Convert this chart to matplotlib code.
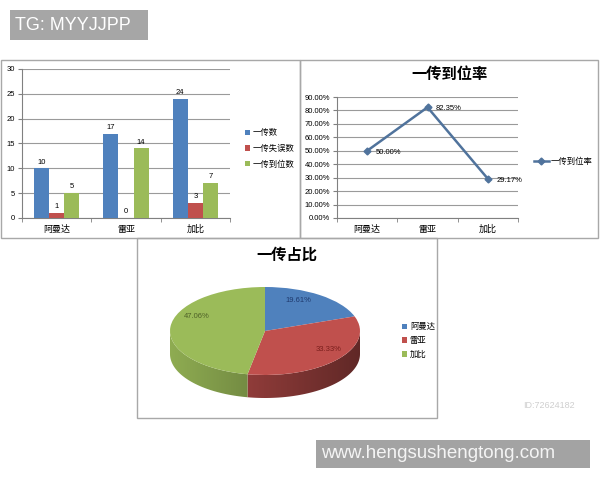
from matplotlib import pyplot as plt
from matplotlib.patches import Rectangle, Polygon
from matplotlib.lines import Line2D
from matplotlib.ticker import FuncFormatter
import matplotlib.colors as mcolors
import numpy as np

plt.rcParams['font.family'] = ['Liberation Sans', 'Noto Sans CJK SC']

# data
players = ['阿曼达', '雷亚', '加比']
series_names = ['一传数', '一传失误数', '一传到位数']
pass_total = [10, 17, 24]
pass_error = [1, 0, 3]
pass_good = [5, 14, 7]
good_rate = [0.5000, 0.8235, 0.2917]
rate_labels = ['50.00%', '82.35%', '29.17%']
share_labels = ['19.61%', '33.33%', '47.06%']

blue, red, green = '#4F81BD', '#C0504D', '#9BBB59'
W, H = 600, 480

def px(x0, y0, x1, y1):
    return [x0 / W, 1 - y1 / H, (x1 - x0) / W, (y1 - y0) / H]

def box(x0, y0, x1, y1, **kw):
    fig.add_artist(Rectangle((x0 / W, 1 - y1 / H), (x1 - x0) / W, (y1 - y0) / H,
                             transform=fig.transFigure, **kw))

fig = plt.figure(figsize=(6, 4.8), dpi=100)

# panel frames and overlay boxes
box(1, 60, 300, 238, fill=False, ec='#a8a8a8', lw=1)
box(300, 60, 598, 238, fill=False, ec='#a8a8a8', lw=1)
box(137, 238, 437, 418, fill=False, ec='#a8a8a8', lw=1)
box(10, 10, 148, 40, fc='#a6a6a6', ec='none')
fig.text(15 / W, 1 - 25 / H, 'TG: MYYJJPP', color='white', fontsize=13, va='center')
box(316, 440, 590, 468, fc='#a3a3a3', ec='none')
fig.text(321 / W, 1 - 454 / H, 'www.hengsushengtong.com', color='#f4f4f4', fontsize=13.5, va='center')
fig.text(523 / W, 1 - 405 / H, 'ID:72624182', color='#cfcfcf', fontsize=6.5, va='center')

# ---- bar chart
ax1 = fig.add_axes(px(22, 69, 230, 218))
x = np.arange(len(players))
bw = 0.217
for i, (vals, col, lab) in enumerate(zip([pass_total, pass_error, pass_good], [blue, red, green], series_names)):
    bars = ax1.bar(x + (i - 1) * bw, vals, bw, color=col, label=lab, zorder=3)
    ax1.bar_label(bars, padding=2, fontsize=5.5)
ax1.set_xlim(-0.5, 2.5)
ax1.set_ylim(0, 30)
ax1.set_yticks(range(0, 31, 5))
ax1.grid(axis='y', color='#9a9a9a', lw=0.8)
ax1.set_xticks(x)
ax1.set_xticklabels(players, fontsize=6.5)
ax1.set_xticks([-0.5, 0.5, 1.5, 2.5], minor=True)
ax1.tick_params(axis='x', which='major', length=0, pad=5)
ax1.tick_params(axis='x', which='minor', length=3, color='#808080')
ax1.tick_params(axis='y', labelsize=5.5, length=3, color='#808080', pad=2)
for s in ['top', 'right']:
    ax1.spines[s].set_visible(False)
for s in ['left', 'bottom']:
    ax1.spines[s].set_color('#808080')
ax1.legend(loc='center left', bbox_to_anchor=(237 / W, 1 - 149 / H), bbox_transform=fig.transFigure,
           frameon=False, fontsize=6, handlelength=0.6, handleheight=0.6, handletextpad=0.4, labelspacing=0.9)

# ---- line chart
line_col = '#50739c'
ax2 = fig.add_axes(px(337, 97, 518, 218))
ax2.plot(x, good_rate, color=line_col, lw=1.8, marker='D', ms=3.5, zorder=3)
for xi, v, t in zip(x, good_rate, rate_labels):
    ax2.annotate(t, (xi, v), xytext=(6, -1), textcoords='offset points', va='center', ha='left', fontsize=5.5)
ax2.set_xlim(-0.5, 2.5)
ax2.set_ylim(0, 0.9)
ax2.set_yticks(np.arange(0, 0.91, 0.1))
ax2.yaxis.set_major_formatter(FuncFormatter(lambda v, p: '%.2f%%' % (v * 100)))
ax2.grid(axis='y', color='#9a9a9a', lw=0.8)
ax2.set_xticks(x)
ax2.set_xticklabels(players, fontsize=6.5)
ax2.set_xticks([-0.5, 0.5, 1.5, 2.5], minor=True)
ax2.tick_params(axis='x', which='major', length=0, pad=5)
ax2.tick_params(axis='x', which='minor', length=3, color='#808080')
ax2.tick_params(axis='y', labelsize=5.5, length=3, color='#808080', pad=2)
for s in ['top', 'right']:
    ax2.spines[s].set_visible(False)
for s in ['left', 'bottom']:
    ax2.spines[s].set_color('#808080')
fig.text(450 / W, 1 - 75 / H, '一传到位率', ha='center', va='center', fontsize=11, weight='bold')
h = Line2D([], [], color=line_col, lw=1.8, marker='D', ms=3.5)
ax2.legend([h], ['一传到位率'], loc='center left', bbox_to_anchor=(526 / W, 1 - 162 / H),
           bbox_transform=fig.transFigure, frameon=False, fontsize=6, handlelength=1.8, handletextpad=0.2)

# ---- 3d-looking pie
ax3 = fig.add_axes(px(165, 281, 365, 410))
wedges, texts, autotexts = ax3.pie(pass_total, colors=[blue, red, green], startangle=90, counterclock=False,
                                   autopct='%.2f%%', wedgeprops=dict(lw=0),
                                   textprops=dict(fontsize=5.5))
depth = 23 / 44
shade = np.linspace(0.92, 0.5, 256)
for wdg in wedges:
    wdg.set_zorder(3)
    base = np.array(mcolors.to_rgb(wdg.get_facecolor()))
    grad = np.clip(shade[None, :, None] * base[None, None, :], 0, 1)
    t1, t2 = wdg.theta1, wdg.theta2
    for k in (-360, 0, 360):
        a, b = max(t1, -180 + k), min(t2, k)
        if a >= b:
            continue
        tt = np.radians(np.linspace(a, b, 60))
        top = np.column_stack([np.cos(tt), np.sin(tt)])
        bot = top[::-1] - [0, depth]
        side = Polygon(np.vstack([top, bot]), closed=True, fc='none', ec='none')
        ax3.add_patch(side)
        im = ax3.imshow(grad, extent=[-1, 1, -1 - depth, 0.1], aspect='auto', zorder=1)
        im.set_clip_path(side)
ax3.set_aspect('auto')
ax3.set_xlim(-100 / 95, 100 / 95)
ax3.set_ylim(-79 / 44, 50 / 44)
label_pos = [(0.35, 0.70), (0.67, -0.41), (-0.72, 0.34)]
label_cols = ['#1f3a6e', '#7b1f1d', '#4f6228']
for t, pos, c in zip(autotexts, label_pos, label_cols):
    t.set_position(pos)
    t.set_color(c)
fig.text(287 / W, 1 - 255 / H, '一传占比', ha='center', va='center', fontsize=11, weight='bold')
ax3.legend(wedges, players, loc='center left', bbox_to_anchor=(394 / W, 1 - 341 / H), bbox_transform=fig.transFigure,
           frameon=False, fontsize=6, handlelength=0.6, handleheight=0.6, handletextpad=0.4, labelspacing=0.7)

fig.savefig('out.png', dpi=100)
